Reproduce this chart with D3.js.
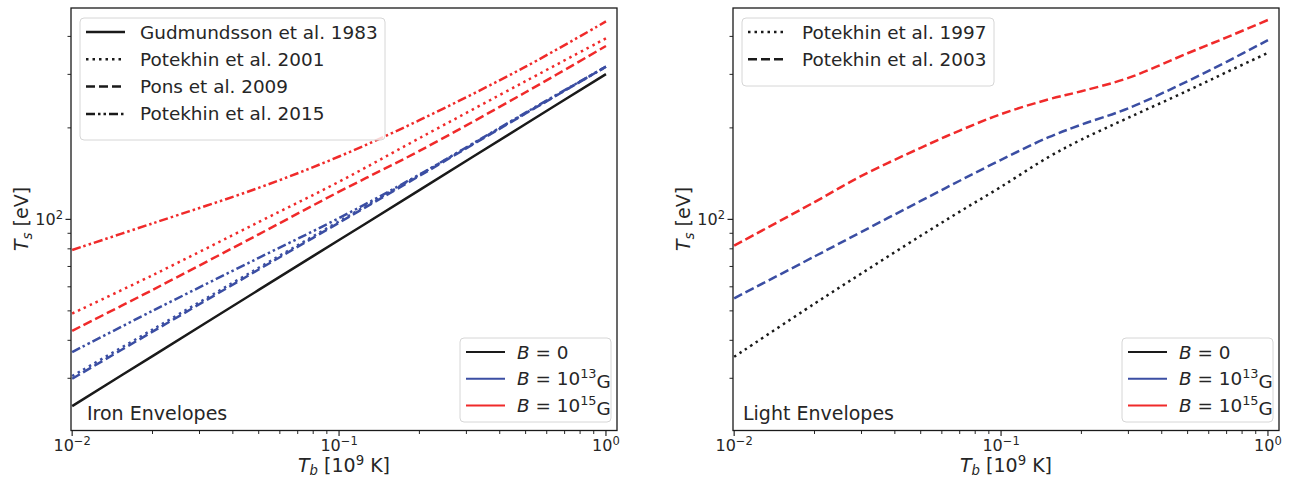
<!DOCTYPE html>
<html>
<head>
<meta charset="utf-8">
<script src="https://cdn.jsdelivr.net/npm/d3@7"></script>
<style>
  body { margin: 0; background: #fff; }
  svg text { font-family: "DejaVu Sans", sans-serif; fill: #262626; }
</style>
</head>
<body>
<svg width="1289" height="481"></svg>
<script>
// Iron envelopes (left panel), Tb in 10^9 K, Ts in eV
var tbIron = [0.01, 0.02, 0.05, 0.1, 0.2, 0.5, 1.0];
var gudmundsson83B0 = [24.3, 35.5, 58.6, 85.5, 124.8, 206, 300.6];
var potekhin01B13 = [30.5, 43.4, 69.3, 98.5, 140, 223.5, 318];
var pons09B13 = [29.9, 42.7, 68.4, 97.5, 139, 223, 318];
var potekhin15B13 = [36.6, 50, 74.7, 101, 140.5, 224.5, 318];
var potekhin01B15 = [49, 65.5, 98, 133, 185, 285, 394];
var pons09B15 = [43, 58.6, 89.3, 123.3, 168, 262, 372];
var potekhin15B15 = [79.3, 97, 127, 161, 212, 318, 448];

// Light envelopes (right panel)
var tbLight = [0.01, 0.02, 0.03, 0.05, 0.07, 0.1, 0.15, 0.2, 0.3, 0.5, 0.7, 1.0];
var potekhin97B0 = [35.3, 52.8, 66.4, 88.3, 106, 128, 160, 183, 216, 265, 305, 353];
var potekhin03B13 = [55, 75.5, 91, 115, 134, 157, 186, 205, 232, 285, 330, 389];
var potekhin03B15 = [82, 114, 139, 172, 196, 222, 248, 264, 292, 352, 397, 453];

var xTicks = [0.01, 0.1, 1];
var xTickExp = ["\u22122", "\u22121", "0"];
var yTicks = [100];
var yTickExp = ["2"];

var colors = {
    "B0": "#1a1a1a",
    "B13": "#3b4ea3",
    "B15": "#f02a2a"
};

var styles = {
    "solid": null,
    "dotted": "2.5,4",
    "dashed": "9,4",
    "dashdotdot": "9,3,2.5,3,2.5,3"
};

var svg = d3.select("svg");

function sup(text, base, exp) {
    text.append("tspan").text(base);
    text.append("tspan").attr("font-size", "0.72em").attr("dy", "-0.5em").text(exp);
}

function drawPanel(p) {
    var x = d3.scaleLog().domain([0.0099, 1.1]).range([p.left, p.left + 546]);
    var y = d3.scaleLog().domain([20.2, 496]).range([430.5, 8]);
    var clipId = "clip" + p.id;

    svg.append("clipPath").attr("id", clipId)
        .append("rect")
        .attr("x", p.left).attr("y", 8)
        .attr("width", 546).attr("height", 422.5);

    // minor ticks
    var xMinor = [];
    [0.01, 0.1].forEach(function(d) {
        for (var k = 2; k <= 9; k++) xMinor.push(d * k);
    });
    var yMinor = [30, 40, 50, 60, 70, 80, 90, 200, 300, 400];

    var axes = svg.append("g");
    axes.selectAll(".xminor").data(xMinor).enter().append("line")
        .attr("x1", function(d) { return x(d); }).attr("x2", function(d) { return x(d); })
        .attr("y1", 430.5).attr("y2", 434).attr("stroke", "#262626").attr("stroke-width", 1);
    axes.selectAll(".xmajor").data(xTicks).enter().append("line")
        .attr("x1", function(d) { return x(d); }).attr("x2", function(d) { return x(d); })
        .attr("y1", 430.5).attr("y2", 436).attr("stroke", "#262626").attr("stroke-width", 1.2);
    axes.selectAll(".yminor").data(yMinor).enter().append("line")
        .attr("y1", function(d) { return y(d); }).attr("y2", function(d) { return y(d); })
        .attr("x1", p.left).attr("x2", p.left - 3.5).attr("stroke", "#262626").attr("stroke-width", 1);
    axes.selectAll(".ymajor").data(yTicks).enter().append("line")
        .attr("y1", function(d) { return y(d); }).attr("y2", function(d) { return y(d); })
        .attr("x1", p.left).attr("x2", p.left - 5.5).attr("stroke", "#262626").attr("stroke-width", 1.2);

    xTicks.forEach(function(d, i) {
        var t = axes.append("text").attr("x", x(d)).attr("y", 451)
            .attr("text-anchor", "middle").attr("font-size", 16);
        sup(t, "10", xTickExp[i]);
    });
    yTicks.forEach(function(d, i) {
        var t = axes.append("text").attr("x", p.left - 8).attr("y", y(d) + 5.5)
            .attr("text-anchor", "end").attr("font-size", 16);
        sup(t, "10", yTickExp[i]);
    });

    // axis labels
    var xl = axes.append("text").attr("x", p.left + 273).attr("y", 472)
        .attr("text-anchor", "middle").attr("font-size", 19);
    xl.append("tspan").attr("font-style", "italic").text("T");
    xl.append("tspan").attr("font-style", "italic").attr("font-size", "0.7em").attr("dy", "0.25em").text("b");
    xl.append("tspan").attr("dy", "-0.17em").text(" [10");
    xl.append("tspan").attr("font-size", "0.7em").attr("dy", "-0.55em").text("9");
    xl.append("tspan").attr("dy", "0.39em").text(" K]");

    var yl = axes.append("text")
        .attr("transform", "translate(" + (p.left - 43) + ",219) rotate(-90)")
        .attr("text-anchor", "middle").attr("font-size", 19);
    yl.append("tspan").attr("font-style", "italic").text("T");
    yl.append("tspan").attr("font-style", "italic").attr("font-size", "0.7em").attr("dy", "0.3em").text("s");
    yl.append("tspan").attr("dy", "-0.2em").text(" [eV]");

    // curves
    var line = d3.line()
        .x(function(d) { return x(d[0]); })
        .y(function(d) { return y(d[1]); })
        .curve(d3.curveCatmullRom.alpha(0.5));

    var lines = svg.append("g").attr("clip-path", "url(#" + clipId + ")");
    p.series.forEach(function(s) {
        var pts = p.tb.map(function(t, i) { return [t, s.values[i]]; });
        lines.append("path")
            .attr("d", line(pts))
            .attr("fill", "none")
            .attr("stroke", colors[s.b])
            .attr("stroke-width", 2.5)
            .attr("stroke-dasharray", styles[s.style]);
    });

    // frame
    svg.append("rect")
        .attr("x", p.left).attr("y", 8).attr("width", 546).attr("height", 422.5)
        .attr("fill", "none").attr("stroke", "#1a1a1a").attr("stroke-width", 1.3);

    // style legend (upper left)
    var lg = svg.append("g");
    lg.append("rect")
        .attr("x", p.left + 9).attr("y", 18)
        .attr("width", p.styleLegendWidth).attr("height", 14 + 27 * p.styleLegend.length)
        .attr("rx", 4).attr("fill", "#fff").attr("fill-opacity", 0.8)
        .attr("stroke", "#d6d6d6");
    p.styleLegend.forEach(function(e, i) {
        var yy = 32 + 27.3 * i;
        lg.append("line")
            .attr("x1", p.left + 15).attr("x2", p.left + 54)
            .attr("y1", yy).attr("y2", yy)
            .attr("stroke", "#1a1a1a").attr("stroke-width", 2.5)
            .attr("stroke-dasharray", styles[e.style]);
        lg.append("text").attr("x", p.left + 69).attr("y", yy + 6.5)
            .attr("font-size", 18.4).text(e.label);
    });

    // field legend (lower right)
    var fl = svg.append("g");
    var fx = p.left + 389;
    fl.append("rect")
        .attr("x", fx).attr("y", 338).attr("width", 151).attr("height", 84)
        .attr("rx", 4).attr("fill", "#fff").attr("fill-opacity", 0.8)
        .attr("stroke", "#d6d6d6");
    var fields = [["B0", null], ["B13", "13"], ["B15", "15"]];
    fields.forEach(function(f, i) {
        var yy = 352 + 26.7 * i;
        fl.append("line")
            .attr("x1", fx + 6).attr("x2", fx + 45)
            .attr("y1", yy).attr("y2", yy)
            .attr("stroke", colors[f[0]]).attr("stroke-width", 2);
        var t = fl.append("text").attr("x", fx + 57).attr("y", yy + 6.5).attr("font-size", 18.4);
        t.append("tspan").attr("font-style", "italic").text("B");
        if (f[1] === null) {
            t.append("tspan").text(" = 0");
        } else {
            t.append("tspan").text(" = 10");
            t.append("tspan").attr("font-size", "0.7em").attr("dy", "-0.55em").text(f[1]);
            t.append("tspan").attr("dy", "0.55em").text("G");
        }
    });

    svg.append("text").attr("x", p.left + p.titleOffset).attr("y", 420)
        .attr("font-size", 19).text(p.title);
}

drawPanel({
    id: "iron",
    left: 71,
    tb: tbIron,
    title: "Iron Envelopes",
    titleOffset: 16,
    styleLegendWidth: 305,
    styleLegend: [
        { label: "Gudmundsson et al. 1983", style: "solid" },
        { label: "Potekhin et al. 2001", style: "dotted" },
        { label: "Pons et al. 2009", style: "dashed" },
        { label: "Potekhin et al. 2015", style: "dashdotdot" }
    ],
    series: [
        { values: gudmundsson83B0, b: "B0", style: "solid" },
        { values: pons09B13, b: "B13", style: "dashed" },
        { values: potekhin01B13, b: "B13", style: "dotted" },
        { values: potekhin15B13, b: "B13", style: "dashdotdot" },
        { values: pons09B15, b: "B15", style: "dashed" },
        { values: potekhin01B15, b: "B15", style: "dotted" },
        { values: potekhin15B15, b: "B15", style: "dashdotdot" }
    ]
});

drawPanel({
    id: "light",
    left: 733,
    tb: tbLight,
    title: "Light Envelopes",
    titleOffset: 10,
    styleLegendWidth: 252,
    styleLegend: [
        { label: "Potekhin et al. 1997", style: "dotted" },
        { label: "Potekhin et al. 2003", style: "dashed" }
    ],
    series: [
        { values: potekhin97B0, b: "B0", style: "dotted" },
        { values: potekhin03B13, b: "B13", style: "dashed" },
        { values: potekhin03B15, b: "B15", style: "dashed" }
    ]
});
</script>
</body>
</html>
